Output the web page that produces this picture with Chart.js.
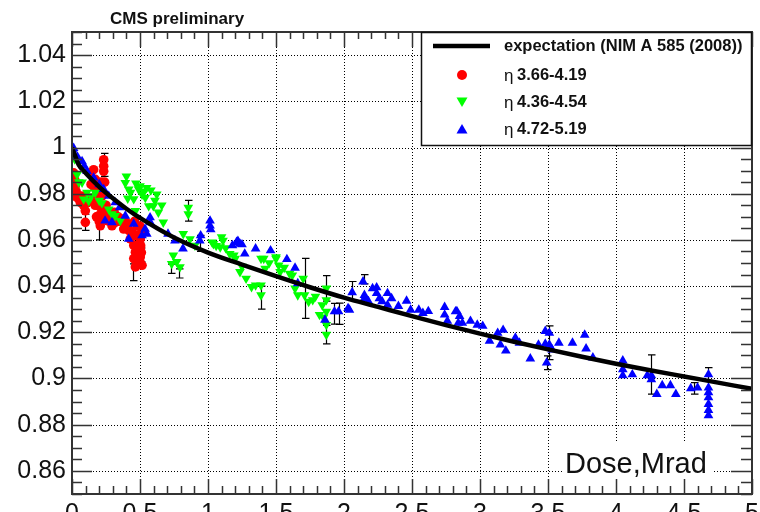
<!DOCTYPE html>
<html>
<head>
<meta charset="utf-8">
<script src="https://cdn.jsdelivr.net/npm/chart.js@4/dist/chart.umd.min.js"></script>
<style>
html,body{margin:0;padding:0;background:#fff;}
canvas{display:block;}
</style>
</head>
<body>
<canvas id="c" width="760" height="512"></canvas>
<script>
// ---------- data ----------
const titleText = "CMS preliminary";
const axisLabelX = "Dose,Mrad";
const legendLabels = ["expectation (NIM A 585 (2008))", "3.66-4.19", "4.36-4.54", "4.72-5.19"];

const xTicks = [0, 0.5, 1, 1.5, 2, 2.5, 3, 3.5, 4, 4.5, 5];
const xTickLabels = ["0", "0.5", "1", "1.5", "2", "2.5", "3", "3.5", "4", "4.5", "5"];
const yTicks = [0.86, 0.88, 0.9, 0.92, 0.94, 0.96, 0.98, 1, 1.02, 1.04];
const yTickLabels = ["0.86", "0.88", "0.9", "0.92", "0.94", "0.96", "0.98", "1", "1.02", "1.04"];

// expectation curve
const curveX = [0, 0.05, 0.1, 0.2, 0.3, 0.4, 0.5, 0.75, 1.0, 1.25, 1.5, 1.75, 2.0, 2.25, 2.5, 2.75, 3.0, 3.25, 3.5, 3.75, 4.0, 4.25, 4.5, 4.75, 5.0];
const curveY = [1.0, 0.9925, 0.989, 0.983, 0.978, 0.9735, 0.9695, 0.961, 0.9545, 0.9493, 0.9443, 0.9395, 0.935, 0.931, 0.927, 0.9231, 0.9194, 0.9159, 0.9126, 0.9094, 0.9064, 0.9036, 0.9009, 0.8982, 0.8955];

// eta 3.66-4.19 (red)
const redX = [0.012,0.02,0.024,0.012,0.03,0.045,0.061,0.07,0.085,0.098,0.098,0.11,0.135,0.159,0.171,0.159,0.184,0.19,0.196,0.196,0.208,0.205,0.22,0.215,0.233,0.233,0.233,0.235,0.257,0.27,0.294,0.31,0.318,0.34,0.36,0.38,0.40,0.42,0.429,0.44,0.454,0.466,0.454,0.466,0.48,0.49,0.502,0.502,0.502,0.51,0.515,0.5,0.47,0.48,0.475,0.505,0.17,0.18,0.2,0.22,0.24,0.25,0.26,0.14,0.15,0.33,0.37,0.39,0.41,0.46,0.5,0.49,0.51,0.47,0.5];
const redY = [0.989,0.986,0.9833,0.979,0.981,0.978,0.9762,0.979,0.975,0.9726,0.9676,0.976,0.989,0.9904,0.9862,0.9833,0.9805,0.978,0.9747,0.9704,0.9661,0.969,0.9726,0.985,0.9947,0.9919,0.9897,0.973,0.9683,0.972,0.9661,0.972,0.9676,0.970,0.968,0.9647,0.9675,0.964,0.9604,0.9635,0.9576,0.9547,0.9519,0.9483,0.951,0.958,0.9562,0.9526,0.9604,0.963,0.949,0.9505,0.962,0.966,0.9545,0.9575,0.975,0.97,0.968,0.979,0.985,0.975,0.97,0.984,0.978,0.968,0.969,0.966,0.9665,0.968,0.966,0.9535,0.9545,0.951,0.9495];

// eta 4.36-4.54 (green)
const greenX = [0.02,0.037,0.05,0.074,0.086,0.11,0.123,0.14,0.171,0.2,0.22,0.27,0.294,0.318,0.355,0.392,0.40,0.417,0.454,0.466,0.49,0.5,0.515,0.539,0.549,0.564,0.598,0.623,0.635,0.671,0.733,0.745,0.77,0.794,0.818,0.855,0.855,0.868,0.904,1.03,1.04,1.09,1.10,1.11,1.16,1.19,1.2,1.235,1.28,1.32,1.35,1.39,1.39,1.39,1.41,1.42,1.5,1.5,1.52,1.53,1.6,1.62,1.64,1.66,1.70,1.71,1.74,1.77,1.82,1.84,1.87,1.87,1.87,1.87,1.87,0.43,0.47,0.53,0.58,0.61,0.66,0.41,1.06,1.13,1.25,1.45,1.56,1.79,1.85];
const greenY = [0.995,0.9883,0.985,0.9849,0.9776,0.9805,0.9769,0.979,0.9805,0.977,0.976,0.9733,0.9712,0.9704,0.9683,0.9847,0.9875,0.9819,0.9777,0.9726,0.9819,0.9833,0.9797,0.9783,0.9826,0.9747,0.9747,0.9797,0.9719,0.9676,0.9497,0.9533,0.9505,0.9483,0.9626,0.974,0.9712,0.9604,0.9576,0.959,0.9583,0.9569,0.9612,0.9597,0.954,0.9533,0.9519,0.9462,0.9433,0.9397,0.9404,0.9519,0.9404,0.9361,0.9519,0.9476,0.9526,0.9519,0.949,0.9462,0.9454,0.9447,0.939,0.9361,0.9433,0.9361,0.9333,0.934,0.9276,0.9318,0.939,0.934,0.929,0.9233,0.919,0.9805,0.9845,0.981,0.9815,0.977,0.975,0.978,0.9575,0.9565,0.9485,0.95,0.948,0.9355,0.9265];

// eta 4.72-5.19 (blue)
const blueX = [0.005,0.012,0.04,0.074,0.09,0.11,0.159,0.2,0.233,0.243,0.27,0.294,0.318,0.35,0.392,0.417,0.454,0.515,0.537,0.55,0.574,0.576,0.706,0.757,0.816,0.94,0.946,1.015,1.015,1.02,1.18,1.21,1.22,1.235,1.25,1.27,1.35,1.46,1.58,1.64,1.66,1.86,1.93,1.96,2.03,2.04,2.06,2.14,2.15,2.15,2.18,2.21,2.24,2.24,2.26,2.28,2.32,2.35,2.32,2.40,2.46,2.49,2.55,2.58,2.62,2.74,2.74,2.76,2.82,2.83,2.85,2.84,2.87,2.93,2.98,3.02,3.07,3.13,3.15,3.17,3.19,3.26,3.29,3.37,3.43,3.48,3.48,3.49,3.51,3.51,3.53,3.58,3.68,3.77,3.78,3.83,4.05,4.05,4.05,4.12,4.23,4.26,4.26,4.30,4.34,4.40,4.44,4.55,4.60,4.68,4.68,4.68,4.68,4.68,4.68,4.68];
const blueY = [0.999,0.9997,0.996,0.994,0.992,0.9897,0.9869,0.984,0.9819,0.9683,0.979,0.9676,0.9762,0.974,0.9704,0.9604,0.9669,0.9619,0.9647,0.9626,0.9697,0.9676,0.9626,0.9597,0.9562,0.9597,0.9619,0.9683,0.9661,0.9645,0.9576,0.959,0.9595,0.9583,0.958,0.954,0.9562,0.9554,0.9516,0.9479,0.9412,0.9254,0.929,0.929,0.9304,0.9297,0.9373,0.9419,0.9347,0.9361,0.9334,0.939,0.9394,0.9369,0.9346,0.9334,0.9369,0.9347,0.9318,0.9313,0.9336,0.9297,0.9297,0.9283,0.9291,0.9309,0.9276,0.9249,0.929,0.9291,0.927,0.924,0.924,0.9249,0.9232,0.9227,0.9163,0.9197,0.9146,0.921,0.912,0.9176,0.9154,0.9086,0.9146,0.9205,0.915,0.9068,0.9197,0.9146,0.9125,0.9154,0.9154,0.9189,0.9129,0.909,0.9077,0.9039,0.9013,0.9017,0.9013,0.9013,0.8996,0.8932,0.897,0.897,0.8932,0.8957,0.896,0.9017,0.896,0.894,0.8918,0.8889,0.8863,0.884];

// error bars: x, y, half-length
const errX = [0.098,0.233,0.196,0.45,0.51,0.855,0.73,0.79,0.94,1.39,1.71,1.87,1.87,1.93,1.96,2.06,2.15,3.49,3.51,4.26,4.57,4.68];
const errY = [0.9676,0.9925,0.964,0.946,0.9535,0.9726,0.9475,0.9455,0.9585,0.935,0.939,0.939,0.919,0.928,0.928,0.938,0.943,0.9068,0.9155,0.9017,0.8957,0.9017];
const errE = [0.0035,0.005,0.004,0.0036,0.003,0.0045,0.002,0.002,0.0035,0.005,0.013,0.0055,0.004,0.0045,0.0046,0.004,0.002,0.003,0.0073,0.0085,0.0025,0.003];

// ---------- chart ----------
const FONT = '"Liberation Sans", Arial, Helvetica, sans-serif';
const toXY = (xs, ys) => xs.map((x, i) => ({x: x, y: ys[i]}));
const X_MINOR = 0.1, X_MAJOR_EVERY = 5;
const Y_MINOR = 0.005;

const decor = {
  id: 'decor',
  beforeDatasetsDraw(chart) {
    const {ctx, chartArea: a, scales: {x, y}} = chart;
    ctx.save();
    ctx.strokeStyle = '#000';
    ctx.lineWidth = 1;
    ctx.setLineDash([1, 2]);
    xTicks.forEach(v => {
      if (v <= x.min || v >= x.max) return;
      const px = Math.round(x.getPixelForValue(v)) + 0.5;
      ctx.beginPath(); ctx.moveTo(px, a.top); ctx.lineTo(px, a.bottom); ctx.stroke();
    });
    yTicks.forEach(v => {
      const py = Math.round(y.getPixelForValue(v)) + 0.5;
      ctx.beginPath(); ctx.moveTo(a.left, py); ctx.lineTo(a.right, py); ctx.stroke();
    });
    ctx.setLineDash([]);
    ctx.fillStyle = '#fff';
    ctx.fillRect(562, 443, 151, a.bottom - 443);
    ctx.strokeStyle = '#000';
    ctx.lineWidth = 1.2;
    errX.forEach((ex, i) => {
      const px = Math.round(x.getPixelForValue(ex)) + 0.5;
      const p1 = y.getPixelForValue(errY[i] + errE[i]);
      const p2 = y.getPixelForValue(errY[i] - errE[i]);
      ctx.beginPath();
      ctx.moveTo(px, p1); ctx.lineTo(px, p2);
      ctx.moveTo(px - 3.5, p1); ctx.lineTo(px + 4, p1);
      ctx.moveTo(px - 3.5, p2); ctx.lineTo(px + 4, p2);
      ctx.stroke();
    });
    ctx.restore();
  },
  afterDatasetsDraw(chart) {
    const {ctx, chartArea: a, scales: {x, y}} = chart;
    ctx.save();
    ctx.strokeStyle = '#333';
    ctx.lineWidth = 1.5;
    ctx.beginPath();
    const nx = Math.round((x.max - x.min) / X_MINOR);
    for (let i = 0; i <= nx; i++) {
      const px = Math.round(x.getPixelForValue(x.min + i * X_MINOR)) + 0.5;
      const major = i % X_MAJOR_EVERY === 0;
      const lb = major ? 15 : 8, lt = major ? 15 : 7;
      ctx.moveTo(px, a.bottom); ctx.lineTo(px, a.bottom - lb);
      ctx.moveTo(px, a.top); ctx.lineTo(px, a.top + lt);
    }
    const ny = Math.round((y.max - y.min) / Y_MINOR);
    for (let i = 0; i <= ny; i++) {
      const v = y.min + i * Y_MINOR;
      const py = Math.round(y.getPixelForValue(v)) + 0.5;
      const major = yTicks.some(t => Math.abs(t - v) < 1e-6);
      const l = major ? 20 : 10, r = major ? 21 : 11;
      ctx.moveTo(a.left, py); ctx.lineTo(a.left + l, py);
      ctx.moveTo(a.right, py); ctx.lineTo(a.right - r, py);
    }
    ctx.stroke();
    ctx.lineWidth = 2;
    ctx.strokeStyle = '#333';
    ctx.strokeRect(a.left, a.top, a.right - a.left, a.bottom - a.top);

    // legend
    const lx = 421, ly = a.top, lw = a.right - 421, lh = 146 - a.top;
    ctx.fillStyle = '#fff';
    ctx.fillRect(lx, ly, lw, lh);
    ctx.lineWidth = 1.5;
    ctx.strokeStyle = '#111';
    ctx.strokeRect(lx + 0.5, ly + 0.5, lw - 1, lh - 1);
    ctx.strokeStyle = '#000';
    ctx.lineWidth = 4.5;
    ctx.beginPath(); ctx.moveTo(433, 46); ctx.lineTo(490, 46); ctx.stroke();
    ctx.fillStyle = '#111';
    ctx.textBaseline = 'middle';
    ctx.textAlign = 'left';
    ctx.font = 'bold 16.5px ' + FONT;
    ctx.fillText(legendLabels[0], 504, 46);
    const rows = [75, 102, 129];
    const cols = ['#ff0000', '#00ff00', '#0000ff'];
    rows.forEach((ry, i) => {
      ctx.fillStyle = cols[i];
      ctx.beginPath();
      if (i === 0) { ctx.arc(462, ry, 5, 0, Math.PI * 2); }
      else {
        const s = i === 1 ? -1 : 1;
        ctx.moveTo(462 - 5.5, ry + s * 4.5); ctx.lineTo(462 + 5.5, ry + s * 4.5); ctx.lineTo(462, ry - s * 5);
        ctx.closePath();
      }
      ctx.fill();
      ctx.fillStyle = '#111';
      ctx.font = '17px ' + FONT;
      ctx.fillText('η', 504, ry + 1);
      ctx.font = 'bold 16.5px ' + FONT;
      ctx.fillText(legendLabels[i + 1], 517, ry);
    });

    ctx.textBaseline = 'alphabetic';
    ctx.font = 'bold 17px ' + FONT;
    ctx.fillStyle = '#111';
    ctx.fillText(titleText, 110, 24);
    ctx.font = '29px ' + FONT;
    ctx.fillText(axisLabelX, 565, 473);
    ctx.restore();
  }
};

const ptBase = {borderWidth: 0, pointHoverRadius: 5, showLine: false};

new Chart(document.getElementById('c'), {
  type: 'scatter',
  data: {
    datasets: [
      {label: legendLabels[0], type: 'line', data: toXY(curveX, curveY), borderColor: '#000', borderWidth: 4.5,
       pointRadius: 0, fill: false, cubicInterpolationMode: 'monotone', order: 0},
      Object.assign({label: legendLabels[3], data: toXY(blueX, blueY), pointStyle: 'triangle', pointRadius: 5.6,
       backgroundColor: '#0000ff', borderColor: '#0000ff', order: 1}, ptBase),
      Object.assign({label: legendLabels[2], data: toXY(greenX, greenY), pointStyle: 'triangle', rotation: 180, pointRadius: 5.6,
       backgroundColor: '#00ff00', borderColor: '#00ff00', order: 2}, ptBase),
      Object.assign({label: legendLabels[1], data: toXY(redX, redY), pointStyle: 'circle', pointRadius: 4.8,
       backgroundColor: '#ff0000', borderColor: '#ff0000', order: 3}, ptBase)
    ]
  },
  options: {
    responsive: false,
    devicePixelRatio: 1,
    animation: false,
    layout: {padding: {top: 32, right: 8, left: 0, bottom: 0}},
    plugins: {legend: {display: false}, tooltip: {enabled: false}, title: {display: false}},
    scales: {
      x: {
        type: 'linear', min: 0, max: 5,
        afterFit: s => { s.height = 18; s.paddingLeft = 0; s.paddingRight = 0; s.paddingTop = 0; s.paddingBottom = 0; },
        afterBuildTicks: s => { s.ticks = xTicks.map(v => ({value: v})); },
        grid: {display: false, drawTicks: false},
        border: {display: false},
        ticks: {autoSkip: false, maxRotation: 0, padding: 5, color: '#111',
          font: {family: FONT, size: 25},
          callback: (v, i) => xTickLabels[i]}
      },
      y: {
        type: 'linear', min: 0.85, max: 1.05,
        afterFit: s => { s.width = 72; s.paddingLeft = 0; s.paddingRight = 0; s.paddingTop = 0; s.paddingBottom = 0; },
        afterBuildTicks: s => { s.ticks = yTicks.map(v => ({value: v})); },
        grid: {display: false, drawTicks: false},
        border: {display: false},
        ticks: {autoSkip: false, padding: 6, color: '#111',
          font: {family: FONT, size: 25},
          callback: (v, i) => yTickLabels[i]}
      }
    }
  },
  plugins: [decor]
});
</script>
</body>
</html>
